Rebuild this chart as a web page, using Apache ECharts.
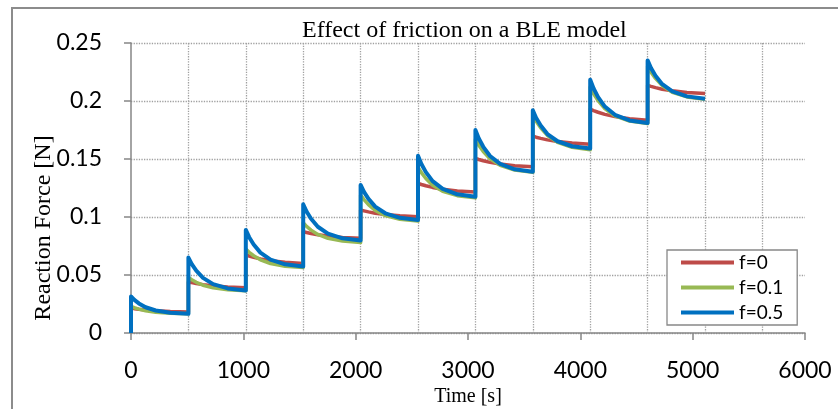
<!DOCTYPE html>
<html>
<head>
<meta charset="utf-8">
<script src="https://cdn.jsdelivr.net/npm/echarts@6/dist/echarts.min.js"></script>
<style>
  html, body { margin: 0; padding: 0; background: #fff; }
  #chart { width: 838px; height: 409px; }
</style>
</head>
<body>
<div id="chart"></div>
<script>
// Sample times [s]: each load step lasts 511 s, the force then relaxes
const times = [0,
  0, 30, 70, 130, 220, 350, 511,
  511, 541, 581, 641, 731, 861, 1022,
  1022, 1052, 1092, 1152, 1242, 1372, 1533,
  1533, 1563, 1603, 1663, 1753, 1883, 2044,
  2044, 2074, 2114, 2174, 2264, 2394, 2555,
  2555, 2585, 2625, 2685, 2775, 2905, 3066,
  3066, 3096, 3136, 3196, 3286, 3416, 3577,
  3577, 3607, 3647, 3707, 3797, 3927, 4088,
  4088, 4118, 4158, 4218, 4308, 4438, 4599,
  4599, 4629, 4669, 4729, 4819, 4949, 5110];

// Reaction force [N], friction f = 0
const forceF0 = [0,
  0.0215, 0.0210, 0.0205, 0.0199, 0.0192, 0.0185, 0.0180,
  0.0440, 0.0434, 0.0426, 0.0417, 0.0407, 0.0397, 0.0390,
  0.0673, 0.0664, 0.0653, 0.0639, 0.0624, 0.0609, 0.0600,
  0.0874, 0.0867, 0.0858, 0.0847, 0.0836, 0.0824, 0.0817,
  0.1060, 0.1053, 0.1044, 0.1033, 0.1022, 0.1010, 0.1003,
  0.1290, 0.1280, 0.1269, 0.1255, 0.1240, 0.1225, 0.1215,
  0.1505, 0.1496, 0.1485, 0.1471, 0.1457, 0.1442, 0.1433,
  0.1697, 0.1688, 0.1678, 0.1665, 0.1651, 0.1637, 0.1628,
  0.1930, 0.1918, 0.1903, 0.1885, 0.1866, 0.1847, 0.1835,
  0.2135, 0.2126, 0.2115, 0.2102, 0.2088, 0.2074, 0.2065];

// Reaction force [N], friction f = 0.1
const forceF01 = [0,
  0.0230, 0.0218, 0.0206, 0.0192, 0.0179, 0.0170, 0.0165,
  0.0480, 0.0459, 0.0437, 0.0412, 0.0389, 0.0373, 0.0365,
  0.0725, 0.0696, 0.0666, 0.0631, 0.0599, 0.0576, 0.0565,
  0.0950, 0.0919, 0.0887, 0.0850, 0.0816, 0.0792, 0.0780,
  0.1190, 0.1150, 0.1107, 0.1057, 0.1012, 0.0981, 0.0965,
  0.1430, 0.1382, 0.1332, 0.1274, 0.1221, 0.1184, 0.1165,
  0.1670, 0.1619, 0.1565, 0.1502, 0.1445, 0.1405, 0.1385,
  0.1880, 0.1826, 0.1769, 0.1703, 0.1643, 0.1601, 0.1580,
  0.2120, 0.2063, 0.2003, 0.1934, 0.1871, 0.1827, 0.1805,
  0.2300, 0.2249, 0.2195, 0.2132, 0.2075, 0.2035, 0.2015];

// Reaction force [N], friction f = 0.5
const forceF05 = [0,
  0.0315, 0.0285, 0.0255, 0.0222, 0.0194, 0.0174, 0.0165,
  0.0650, 0.0593, 0.0537, 0.0475, 0.0421, 0.0384, 0.0367,
  0.0889, 0.0826, 0.0763, 0.0693, 0.0633, 0.0592, 0.0573,
  0.1110, 0.1047, 0.0985, 0.0916, 0.0856, 0.0816, 0.0797,
  0.1276, 0.1216, 0.1156, 0.1089, 0.1032, 0.0993, 0.0975,
  0.1528, 0.1457, 0.1387, 0.1309, 0.1242, 0.1196, 0.1175,
  0.1749, 0.1677, 0.1605, 0.1526, 0.1458, 0.1411, 0.1390,
  0.1920, 0.1854, 0.1788, 0.1715, 0.1653, 0.1610, 0.1590,
  0.2184, 0.2109, 0.2034, 0.1952, 0.1881, 0.1832, 0.1810,
  0.2350, 0.2284, 0.2218, 0.2145, 0.2083, 0.2040, 0.2020];

// Vertical grid lines sit on the load steps
const stepGrid = [511, 1022, 1533, 2044, 2555, 3066, 3577, 4088, 4599, 5110, 5621];

const seriesNames = ['f=0', 'f=0.1', 'f=0.5'];
const seriesColors = ['#BE4B48', '#98B954', '#0070C0'];

const pairs = arr => times.map((t, i) => [t, arr[i]]);

const gridLine = { type: 'dotted', color: '#a0a0a0', width: 1.3 };
const axisGray = '#868686';
const tickFont = { fontFamily: 'Lato', fontSize: 23, color: '#000' };
const serif = 'Liberation Serif';

const chart = echarts.init(document.getElementById('chart'), null, { renderer: 'canvas' });
chart.setOption({
  animation: false,
  backgroundColor: '#fff',
  title: {
    text: 'Effect of friction on a BLE model',
    left: 297, top: 14,
    textStyle: { fontFamily: serif, fontSize: 24, fontWeight: 'normal', color: '#000' }
  },
  graphic: [
    { type: 'rect', silent: true, z: 0,
      shape: { x: 12, y: 8, width: 900, height: 500 },
      style: { fill: 'none', stroke: '#8c8c8c', lineWidth: 2 } },
    { type: 'text', silent: true, x: 44, y: 228, rotation: Math.PI / 2,
      style: { text: 'Reaction Force [N]', fontFamily: serif, fontSize: 24,
               fill: '#000', align: 'center', verticalAlign: 'middle' } }
  ],
  grid: { left: 131, right: 33, top: 43, bottom: 76, containLabel: false, outerBoundsMode: 'none' },
  legend: {
    orient: 'vertical', left: 667, top: 250,
    padding: [3, 14, 3, 14],
    icon: 'rect',
    itemWidth: 53, itemHeight: 4, itemGap: 6,
    backgroundColor: '#fff', borderColor: '#888', borderWidth: 1.3,
    textStyle: { fontFamily: 'Lato', fontSize: 19, lineHeight: 19, color: '#000' },
    data: seriesNames
  },
  xAxis: {
    type: 'value', min: 0, max: 6000, interval: 1000,
    name: 'Time [s]', nameLocation: 'middle', nameGap: 54,
    nameTextStyle: { fontFamily: serif, fontSize: 20, color: '#000' },
    axisLine: { show: true, lineStyle: { color: axisGray, width: 1.5 } },
    axisTick: { show: true, length: 7, lineStyle: { color: axisGray, width: 1.5 } },
    axisLabel: Object.assign({ margin: 26, formatter: v => String(v) }, tickFont),
    splitLine: { show: false }
  },
  yAxis: {
    type: 'value', min: 0, max: 0.25, interval: 0.05,
    axisLine: { show: true, lineStyle: { color: axisGray, width: 1.5 } },
    axisTick: { show: true, length: 7, lineStyle: { color: axisGray, width: 1.5 } },
    axisLabel: Object.assign({ margin: 29 }, tickFont),
    splitLine: { show: true, lineStyle: gridLine }
  },
  series: [
    {
      name: 'stepGrid', type: 'line', data: [], silent: true,
      symbol: 'none', lineStyle: { opacity: 0 },
      markLine: {
        silent: true, z: 1, symbol: ['none', 'none'], label: { show: false },
        lineStyle: gridLine, emphasis: { disabled: true },
        data: stepGrid.map(t => ({ xAxis: t }))
      }
    },
    ...[forceF0, forceF01, forceF05].map((arr, i) => ({
      name: seriesNames[i], type: 'line', data: pairs(arr),
      symbol: 'none', z: 3 + i,
      color: seriesColors[i],
      lineStyle: { color: seriesColors[i], width: i === 2 ? 4 : 3.5, join: 'round' },
      emphasis: { disabled: true }
    }))
  ]
});
</script>
</body>
</html>
